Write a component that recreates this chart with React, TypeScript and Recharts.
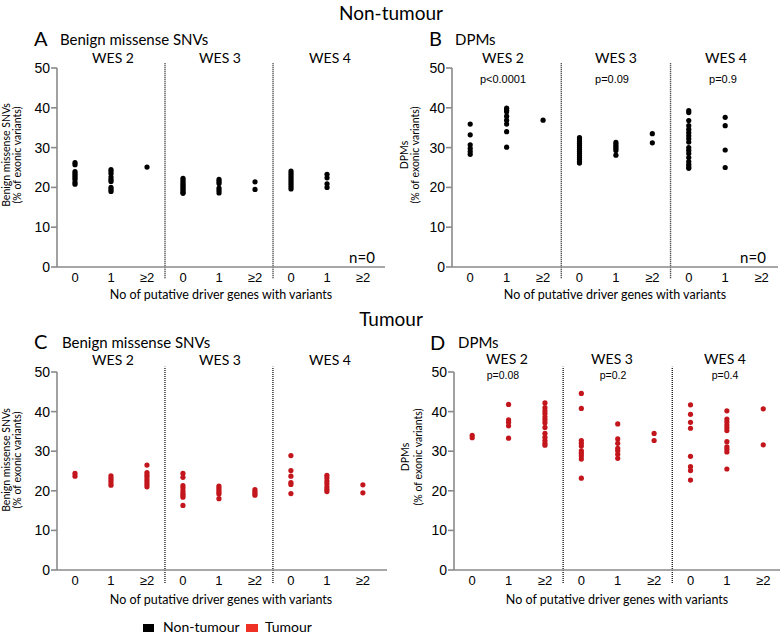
import { ScatterChart, Scatter, XAxis, YAxis, ReferenceLine } from "recharts";

// x positions 0..8 = WES 2 (0, 1, >=2), WES 3 (0, 1, >=2), WES 4 (0, 1, >=2)
const CATS = ["0", "1", "≥2"];
const X_TICKS = [0, 1, 2, 3, 4, 5, 6, 7, 8];
const Y_TICKS = [0, 10, 20, 30, 40, 50];

const benignNonTumour: number[][] = [
  [26.2, 25.7, 24.0, 23.5, 23.0, 22.5, 22.0, 21.3, 20.8],
  [24.5, 24.0, 23.4, 22.6, 22.0, 21.5, 20.0, 19.5, 19.0],
  [25.1],
  [22.3, 21.8, 21.3, 20.8, 20.4, 20.0, 19.6, 19.2, 18.8, 18.5],
  [22.0, 21.5, 21.0, 19.8, 19.2, 18.6],
  [21.4, 19.5],
  [24.1, 23.6, 23.1, 22.6, 22.1, 21.6, 21.1, 20.6, 20.1, 19.6],
  [23.3, 22.4, 20.9, 20.0],
  [],
];

const dpmNonTumour: number[][] = [
  [35.9, 33.2, 30.7, 29.8, 29.0, 28.3],
  [39.9, 39.4, 39.0, 37.9, 36.9, 35.9, 34.0, 30.1],
  [36.9],
  [32.5, 32.0, 31.5, 31.0, 30.5, 30.0, 29.5, 29.0, 28.5, 28.0, 27.5, 27.0, 26.5, 26.1],
  [31.3, 30.8, 30.3, 29.8, 29.3, 28.1],
  [33.5, 31.2],
  [39.3, 38.8, 36.8, 35.5, 34.6, 33.8, 33.0, 32.2, 31.4, 30.0, 29.3, 28.5, 27.5, 26.5, 25.8, 25.2, 24.8],
  [37.6, 35.5, 29.4, 25.0],
  [],
];

const benignTumour: number[][] = [
  [24.4, 23.7],
  [23.8, 23.2, 22.6, 22.0, 21.4],
  [26.5, 24.6, 24.0, 23.5, 22.8, 22.2, 21.6, 21.0],
  [24.4, 23.4, 21.3, 20.7, 20.0, 19.4, 18.9, 18.4, 16.3],
  [21.2, 20.7, 20.2, 19.7, 19.2, 18.0],
  [20.3, 19.8, 19.3, 18.9],
  [28.9, 25.1, 23.7, 22.1, 21.6, 19.3],
  [23.9, 23.3, 22.5, 21.8, 21.0, 20.4, 19.8],
  [21.5, 19.5],
];

const dpmTumour: number[][] = [
  [34.0, 33.4],
  [41.8, 37.9, 37.3, 36.4, 33.3],
  [42.2, 41.0, 40.2, 39.5, 38.7, 38.0, 37.2, 36.0, 34.5, 33.5, 32.7, 32.0, 31.5],
  [44.6, 40.8, 32.7, 32.0, 31.3, 30.1, 29.5, 28.8, 28.0, 23.2],
  [36.9, 33.1, 32.0, 30.7, 30.1, 29.2, 28.2],
  [34.5, 32.7],
  [41.7, 39.3, 37.3, 35.8, 28.7, 26.1, 25.1, 22.7],
  [40.2, 38.1, 37.4, 36.6, 35.9, 35.2, 32.4, 31.1, 30.5, 29.8, 25.5],
  [40.7, 31.6],
];

const BLACK = "#000000";
const RED = "#c3161c";
const LEGEND_RED = "#ee3124";
const AXIS_GREY = "#8a8a8a";
const TITLE_FONT = "Lato, 'Open Sans', sans-serif";
const TICK_FONT = "'Liberation Sans', Arial, sans-serif";

function toPoints(groups: number[][]) {
  return groups.flatMap((vals, i) => vals.map((v) => ({ x: i, y: v })));
}

interface PanelProps {
  left: number;
  top: number;
  width: number;
  margin: { top: number; right: number; bottom: number; left: number };
  xMax: number;
  groups: number[][];
  color: string;
  lineTop: number;
  lineBottom: number;
}

function Panel({ left, top, width, margin, xMax, groups, color, lineTop, lineBottom }: PanelProps) {
  const dot = (p: any) => <circle cx={p.cx} cy={p.cy} r={2.6} fill={color} />;
  return (
    <div style={{ position: "absolute", left, top }}>
      <ScatterChart width={width} height={300} margin={margin}>
        <XAxis
          type="number"
          dataKey="x"
          domain={[-0.5, xMax]}
          ticks={X_TICKS}
          interval={0}
          allowDataOverflow
          tickFormatter={(v: number) => CATS[v % 3]}
          tickLine={false}
          tickSize={4}
          tickMargin={2}
          height={20}
          axisLine={{ stroke: AXIS_GREY, strokeWidth: 1.6 }}
          tick={{ fill: BLACK, fontSize: 13, fontFamily: TICK_FONT }}
        />
        <YAxis
          type="number"
          dataKey="y"
          domain={[0, 50]}
          ticks={Y_TICKS}
          interval={0}
          width={30}
          tickSize={6}
          tickMargin={1}
          tickLine={{ stroke: AXIS_GREY, strokeWidth: 1.6 }}
          axisLine={{ stroke: AXIS_GREY, strokeWidth: 1.6 }}
          tick={{ fill: BLACK, fontSize: 14, fontFamily: TICK_FONT }}
        />
        {[2.5, 5.5].map((x) => (
          <ReferenceLine
            key={x}
            segment={[
              { x, y: lineBottom },
              { x, y: lineTop },
            ]}
            ifOverflow="visible"
            stroke="#222"
            strokeWidth={1.4}
            strokeDasharray="1 1"
          />
        ))}
        <Scatter data={toPoints(groups)} shape={dot} isAnimationActive={false} />
      </ScatterChart>
    </div>
  );
}

function VLabel({ x, y, lines }: { x: number; y: number; lines: { text: string; dx: number }[] }) {
  return (
    <>
      {lines.map((l) => (
        <text
          key={l.text}
          x={x + l.dx}
          y={y}
          transform={`rotate(-90, ${x + l.dx}, ${y})`}
          textAnchor="middle"
          dominantBaseline="central"
          fontSize={10.5}
          fontFamily={TITLE_FONT}
          fill={BLACK}
        >
          {l.text}
        </text>
      ))}
    </>
  );
}

function Overlay() {
  const t = (x: number, y: number, s: string, size: number, anchor: string = "middle", family = TITLE_FONT) => (
    <text x={x} y={y} fontSize={size} textAnchor={anchor} fontFamily={family} fill={BLACK}>
      {s}
    </text>
  );
  const xTitle = "No of putative driver genes with variants";
  return (
    <svg width={782} height={636} style={{ position: "absolute", left: 0, top: 0, pointerEvents: "none" }}>
      {t(391, 20, "Non-tumour", 19)}
      {t(391, 326, "Tumour", 19)}

      {/* A */}
      {t(34, 46, "A", 20, "start")}
      {t(60, 45, "Benign missense SNVs", 15, "start")}
      {t(113, 63, "WES 2", 14)}
      {t(220, 63, "WES 3", 14)}
      {t(330, 63, "WES 4", 14)}
      {t(362, 263, "n=0", 15)}
      {t(221, 299, xTitle, 12.5)}
      <VLabel x={6} y={155} lines={[{ text: "Benign missense SNVs", dx: 0 }, { text: "(% of exonic variants)", dx: 11 }]} />

      {/* B */}
      {t(429, 46, "B", 20, "start")}
      {t(455, 45, "DPMs", 15, "start")}
      {t(503, 63, "WES 2", 14)}
      {t(616, 63, "WES 3", 14)}
      {t(726, 63, "WES 4", 14)}
      {t(503, 83, "p<0.0001", 11, "middle", TICK_FONT)}
      {t(612, 83, "p=0.09", 11, "middle", TICK_FONT)}
      {t(723, 83, "p=0.9", 11, "middle", TICK_FONT)}
      {t(753, 263, "n=0", 15)}
      {t(615, 299, xTitle, 12.5)}
      <VLabel x={404} y={155} lines={[{ text: "DPMs", dx: 0 }, { text: "(% of exonic variants)", dx: 11 }]} />

      {/* C */}
      {t(34, 349, "C", 20, "start")}
      {t(62, 348, "Benign missense SNVs", 15, "start")}
      {t(113, 365, "WES 2", 14)}
      {t(220, 365, "WES 3", 14)}
      {t(330, 365, "WES 4", 14)}
      {t(221, 604, xTitle, 12.5)}
      <VLabel x={6} y={460} lines={[{ text: "Benign missense SNVs", dx: 0 }, { text: "(% of exonic variants)", dx: 11 }]} />

      {/* D */}
      {t(430, 350, "D", 20, "start")}
      {t(458, 348, "DPMs", 15, "start")}
      {t(507, 364, "WES 2", 14)}
      {t(612, 364, "WES 3", 14)}
      {t(725, 364, "WES 4", 14)}
      {t(503, 379, "p=0.08", 10.5, "middle", TICK_FONT)}
      {t(613, 379, "p=0.2", 10.5, "middle", TICK_FONT)}
      {t(725, 379, "p=0.4", 10.5, "middle", TICK_FONT)}
      {t(617, 604, xTitle, 12.5)}
      <VLabel x={405} y={457} lines={[{ text: "DPMs", dx: 0 }, { text: "(% of exonic variants)", dx: 13 }]} />

      {/* legend */}
      <rect x={143} y={624} width={11} height={8} fill={BLACK} />
      {t(163, 632, "Non-tumour", 14, "start")}
      <rect x={246} y={624} width={12} height={8} fill={LEGEND_RED} />
      {t(265, 632, "Tumour", 14, "start")}
    </svg>
  );
}

export default function App() {
  return (
    <div style={{ position: "absolute", left: 0, top: 0, width: 782, height: 636, background: "#fff" }}>
      <Panel
        left={0}
        top={0}
        width={390}
        margin={{ top: 68, right: 5, bottom: 13, left: 27 }}
        xMax={8.61}
        groups={benignNonTumour}
        color={BLACK}
        lineTop={51.3}
        lineBottom={-2.8}
      />
      <Panel
        left={390}
        top={0}
        width={392}
        margin={{ top: 68, right: 4, bottom: 13, left: 32 }}
        xMax={8.45}
        groups={dpmNonTumour}
        color={BLACK}
        lineTop={51.3}
        lineBottom={-2.8}
      />
      <Panel
        left={0}
        top={300}
        width={390}
        margin={{ top: 72, right: 3, bottom: 10, left: 27 }}
        xMax={8.67}
        groups={benignTumour}
        color={RED}
        lineTop={51.3}
        lineBottom={-3.3}
      />
      <Panel
        left={390}
        top={300}
        width={392}
        margin={{ top: 72, right: 2, bottom: 10, left: 34 }}
        xMax={8.46}
        groups={dpmTumour}
        color={RED}
        lineTop={51.3}
        lineBottom={-3.3}
      />
      <Overlay />
    </div>
  );
}
